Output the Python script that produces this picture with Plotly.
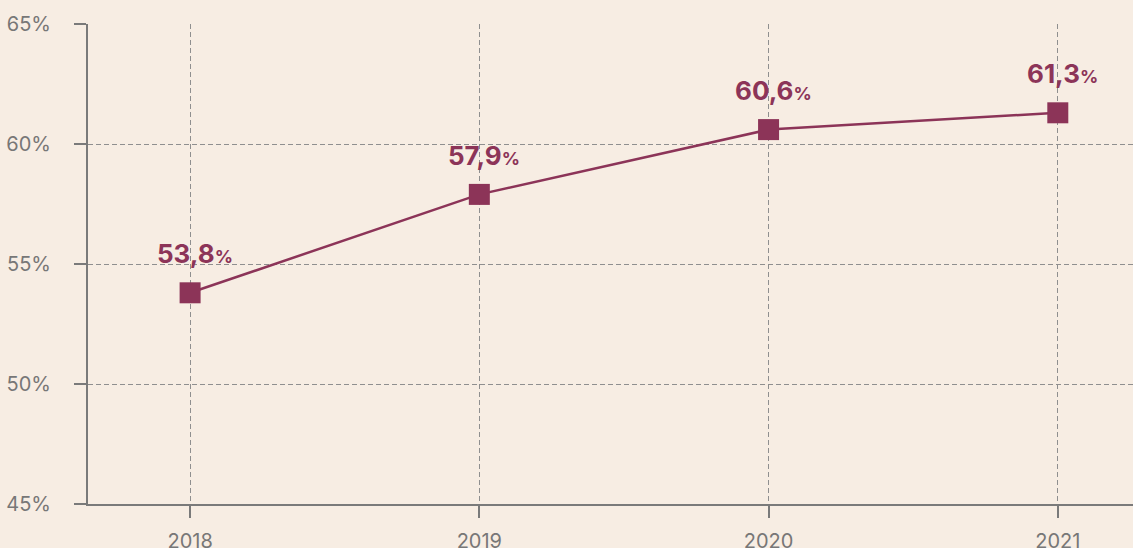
import plotly.graph_objects as go

years = ["2018", "2019", "2020", "2021"]
values = [53.8, 57.9, 60.6, 61.3]
labels = ["53,8", "57,9", "60,6", "61,3"]
y_ticks = [45, 50, 55, 60, 65]
y_tick_text = ["45%", "50%", "55%", "60%", "65%"]

line_color = "#8c3458"
bg = "#f7ede3"
grid = "#8f8f8f"

fig = go.Figure()
fig.add_trace(go.Scatter(
    x=years, y=values, mode="lines+markers",
    line=dict(color=line_color, width=2.5),
    marker=dict(symbol="square", size=21, color=line_color, line=dict(width=0)),
    hoverinfo="skip",
))

for i, (v, t) in enumerate(zip(values, labels)):
    fig.add_annotation(
        x=i, y=v, xref="x", yref="y",
        text=f"<b>{t}<span style='font-size:18px'>%</span></b>",
        showarrow=False, yshift=39, xshift=5,
        font=dict(family="Inter, Roboto, sans-serif", size=26, color=line_color),
    )

fig.update_layout(
    width=1133, height=548,
    margin=dict(l=88, r=0, t=24, b=44),
    paper_bgcolor=bg, plot_bgcolor=bg,
    showlegend=False,
    font=dict(family="Inter, Roboto, sans-serif", size=20, color="#777777"),
)
fig.update_xaxes(
    type="category", range=[-0.353, 3.26], automargin=False,
    showline=True, linecolor="#7a7a7a", linewidth=2,
    ticks="outside", ticklen=12, tickwidth=2, tickcolor="#7a7a7a",
    showgrid=True, gridcolor=grid, griddash="5px,3px", gridwidth=1,
    zeroline=False, tickfont=dict(size=20, color="#777777"),
    ticklabelstandoff=6,
)
fig.update_yaxes(
    range=[45, 65], tickvals=y_ticks, ticktext=y_tick_text, automargin=False,
    showline=True, linecolor="#7a7a7a", linewidth=2,
    ticks="outside", ticklen=12, tickwidth=2, tickcolor="#7a7a7a",
    showgrid=True, gridcolor=grid, griddash="5px,3px", gridwidth=1,
    zeroline=False, tickfont=dict(size=20, color="#777777"),
    ticklabelstandoff=19,
)

fig.write_html(
    "out.html",
    config={"displayModeBar": False},
    post_script="document.body.style.margin='0';document.body.style.overflow='hidden';",
)
